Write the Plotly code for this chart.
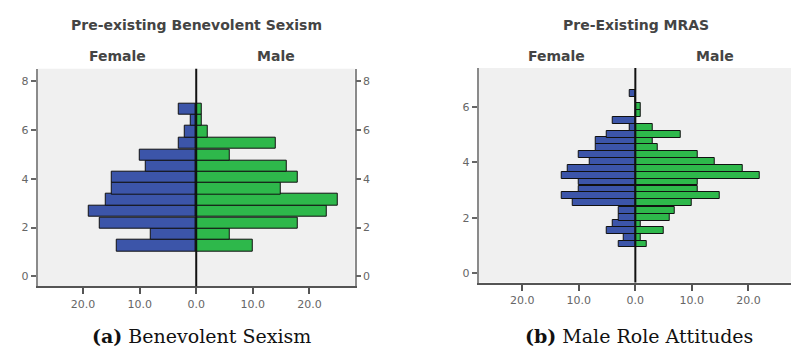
import plotly.graph_objects as go

W, H = 799, 347

# ---- Data (a) Pre-existing Benevolent Sexism ----
bs_bins = [1.26, 1.73, 2.19, 2.68, 3.14, 3.60, 4.07, 4.52, 4.98, 5.46, 5.93, 6.40, 6.87]
bs_female = [14, 8, 17, 19, 16, 15, 15, 9, 10, 3, 2, 1, 3]
bs_male = [10, 6, 18, 23, 25, 15, 18, 16, 6, 14, 2, 1, 1]

# ---- Data (b) Pre-Existing MRAS ----
mr_bins = [1.05, 1.30, 1.54, 1.78, 2.02, 2.27, 2.54, 2.79, 3.04, 3.29, 3.52, 3.79,
           4.04, 4.28, 4.53, 4.78, 5.02, 5.26, 5.50, 5.77, 6.02, 6.27, 6.49]
mr_female = [3, 2, 5, 4, 3, 3, 11, 13, 10, 10, 13, 12, 8, 10, 7, 7, 5, 1, 4, 0, 0, 0, 1]
mr_male = [2, 1, 5, 1, 6, 7, 10, 15, 11, 11, 22, 19, 14, 11, 4, 3, 8, 3, 0, 1, 1, 0, 0]

x_tickvals = [-20, -10, 0, 10, 20]
x_ticktext = ["20.0", "10.0", "0.0", "10.0", "20.0"]
bs_yticks = [0, 2, 4, 6, 8]
mr_yticks = [0, 2, 4, 6]

titles = ["Pre-existing Benevolent Sexism", "Pre-Existing MRAS"]
captions = ["<b>(a)</b> Benevolent Sexism", "<b>(b)</b> Male Role Attitudes"]

BLUE = "#3c55a9"
GREEN = "#2eb84b"
FRAME = "#8a8a8a"
TXT = "#666666"
SANS = "DejaVu Sans"

fig = go.Figure()


def px_x(p):
    return p / W


def px_y(p):
    return 1 - p / H


panels = [
    dict(bins=bs_bins, f=bs_female, m=bs_male, width=0.4675, xa="x", ya="y",
         xdom=[px_x(30), px_x(349.3)], ydom=[px_y(278.3), px_y(60.7)],
         xr=[-28, 28], yr=[-0.41, 8.52], yt=bs_yticks, cx=190),
    dict(bins=mr_bins, f=mr_female, m=mr_male, width=0.247, xa="x2", ya="y2",
         xdom=[px_x(474.3), px_x(789.3)], ydom=[px_y(274.5), px_y(60)],
         xr=[-27.7, 27.6], yr=[-0.34, 7.41], yt=mr_yticks, cx=632.3),
]

for i, p in enumerate(panels):
    fig.add_trace(go.Bar(y=p["bins"], x=[-v for v in p["f"]], orientation="h",
                         width=p["width"], marker=dict(color=BLUE, line=dict(color="#111", width=1)),
                         xaxis=p["xa"], yaxis=p["ya"], showlegend=False))
    fig.add_trace(go.Bar(y=p["bins"], x=p["m"], orientation="h",
                         width=p["width"], marker=dict(color=GREEN, line=dict(color="#111", width=1)),
                         xaxis=p["xa"], yaxis=p["ya"], showlegend=False))

common_x = dict(tickvals=x_tickvals, ticktext=x_ticktext, ticks="outside", ticklen=6,
                tickcolor="#555", tickwidth=1.5, showline=True, linecolor="#555", linewidth=2,
                mirror=False, showgrid=False, zeroline=False,
                tickfont=dict(family=SANS, size=11, color=TXT), fixedrange=True)
common_y = dict(ticks="outside", ticklen=5, tickcolor="#666", tickwidth=1.5,
                showline=True, linecolor=FRAME, linewidth=2, mirror=True, showgrid=False,
                zeroline=False, tickfont=dict(family=SANS, size=11, color=TXT))

fig.update_layout(
    xaxis=dict(domain=panels[0]["xdom"], range=panels[0]["xr"], anchor="y", **common_x),
    yaxis=dict(domain=panels[0]["ydom"], range=panels[0]["yr"], anchor="x",
               tickvals=bs_yticks, **common_y),
    yaxis3=dict(overlaying="y", side="right", anchor="x", range=panels[0]["yr"],
                tickvals=bs_yticks, ticks="outside", ticklen=5, tickcolor="#666", tickwidth=1.5,
                showline=False, showgrid=False, zeroline=False,
                tickfont=dict(family=SANS, size=11, color=TXT)),
    xaxis2=dict(domain=panels[1]["xdom"], range=panels[1]["xr"], anchor="y2", **common_x),
    yaxis2=dict(domain=panels[1]["ydom"], range=panels[1]["yr"], anchor="x2",
                tickvals=mr_yticks, **common_y),
    yaxis4=dict(overlaying="y2", side="right", anchor="x2", range=panels[1]["yr"],
                tickvals=mr_yticks, ticks="outside", ticklen=5, tickcolor="#666", tickwidth=1.5,
                showline=False, showgrid=False, zeroline=False,
                tickfont=dict(family=SANS, size=11, color=TXT)),
)

# invisible traces so the right-hand axes render
fig.add_trace(go.Scatter(x=[0], y=[0], xaxis="x", yaxis="y3", mode="markers",
                         marker=dict(opacity=0), showlegend=False, hoverinfo="skip"))
fig.add_trace(go.Scatter(x=[0], y=[0], xaxis="x2", yaxis="y4", mode="markers",
                         marker=dict(opacity=0), showlegend=False, hoverinfo="skip"))

shapes = []
annotations = []
for i, p in enumerate(panels):
    shapes.append(dict(type="line", xref=p["xa"], yref=p["ya"] + " domain", x0=0, x1=0, y0=0, y1=1,
                       line=dict(color="#111", width=2), layer="above"))
    annotations.append(dict(text="<b>" + titles[i] + "</b>", xref="paper", yref="paper",
                            x=px_x(p["cx"]), y=px_y(17), showarrow=False, xanchor="center",
                            yanchor="middle", font=dict(family=SANS, size=14, color="#444")))
    annotations.append(dict(text="<b>Female</b>", xref="paper", yref="paper",
                            x=px_x(p["cx"] - 80), y=px_y(48), showarrow=False, xanchor="center",
                            yanchor="middle", font=dict(family=SANS, size=14, color="#444")))
    annotations.append(dict(text="<b>Male</b>", xref="paper", yref="paper",
                            x=px_x(p["cx"] + 80), y=px_y(48), showarrow=False, xanchor="center",
                            yanchor="middle", font=dict(family=SANS, size=14, color="#444")))

annotations.append(dict(text=captions[0], xref="paper", yref="paper", x=px_x(195), y=px_y(328),
                        showarrow=False, xanchor="center", yanchor="middle",
                        font=dict(family="DejaVu Serif", size=19, color="#111")))
annotations.append(dict(text=captions[1], xref="paper", yref="paper", x=px_x(636), y=px_y(328),
                        showarrow=False, xanchor="center", yanchor="middle",
                        font=dict(family="DejaVu Serif", size=19, color="#111")))

fig.update_layout(
    width=W, height=H, margin=dict(l=0, r=0, t=0, b=0),
    paper_bgcolor="white", plot_bgcolor="#f0f0f0",
    barmode="overlay", bargap=0, showlegend=False,
    shapes=shapes, annotations=annotations,
)

fig.write_html("out.html")
